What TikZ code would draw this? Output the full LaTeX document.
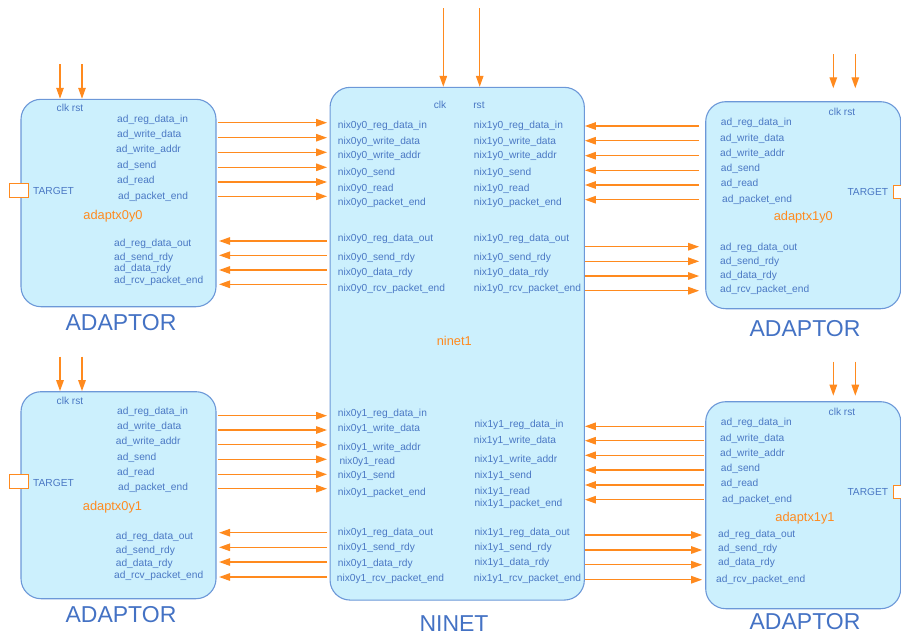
\documentclass[tikz,border=0pt]{standalone}
\usepackage{fontspec}
\setmainfont{Liberation Sans}
\usetikzlibrary{arrows.meta}

\definecolor{boxfill}{HTML}{CCF0FD}
\definecolor{boxline}{HTML}{6C98D8}
\definecolor{sigtext}{HTML}{4A78C4}
\definecolor{titletext}{HTML}{4472C4}
\definecolor{wireorange}{HTML}{FF8A1E}

\tikzset{
  blockbox/.style={draw=boxline, fill=boxfill, line width=1.1pt, rounded corners=20pt,
    inner sep=0pt, minimum width=#1},
  sig/.style={anchor=west, inner sep=0pt, text=sigtext, font=\fontsize{10.2}{12}\selectfont},
  sigc/.style={inner sep=0pt, text=sigtext, font=\fontsize{10.2}{12}\selectfont},
  inst/.style={inner sep=0pt, text=wireorange, font=\fontsize{12.8}{14}\selectfont},
  kind/.style={inner sep=0pt, text=titletext, font=\fontsize{23}{26}\selectfont},
  wire/.style={draw=wireorange, line width=1.3pt, -{Triangle[length=11pt,width=7.5pt]}},
  portbox/.style={draw=wireorange, fill=white, line width=1pt},
}

\begin{document}
\begin{tikzpicture}[x=1pt, y=-1pt]
\useasboundingbox (0,0) rectangle (901,635);

% ---------- blocks ----------
\node[blockbox=195pt, minimum height=207.4pt] (a00) at (118.5,203) {};
\node[blockbox=195pt, minimum height=207pt]   (a01) at (118.5,495.2) {};
\node[blockbox=195pt, minimum height=207pt]   (a10) at (803.2,205.2) {};
\node[blockbox=195pt, minimum height=207pt]   (a11) at (803.2,505.2) {};
\node[blockbox=254.3pt, minimum height=512.7pt] (nin) at (457.2,343.7) {};

% ---------- TARGET ports ----------
\draw[portbox] (9.3,183) rectangle (28,197);
\draw[portbox] (9.3,474.3) rectangle (28,488);
\draw[portbox] (893,185) rectangle (915,198.3);
\draw[portbox] (893,485) rectangle (915,498.3);
\node[sig] (t00) at (33,190.7) {TARGET};
\node[sig] (t01) at (33,483) {TARGET};
\node[sig, anchor=east] (t10) at (888.3,191.7) {TARGET};
\node[sig, anchor=east] (t11) at (888.3,491.7) {TARGET};

% ---------- clock / reset inputs ----------
\coordinate (ck00) at (60,64);     \coordinate (rs00) at (82,64);
\coordinate (ck01) at (60,356.7);  \coordinate (rs01) at (82,356.7);
\coordinate (ck10) at (833.3,54);  \coordinate (rs10) at (855.3,54);
\coordinate (ck11) at (833.3,361.7); \coordinate (rs11) at (855.3,361.7);
\coordinate (ckn) at (443.3,8);    \coordinate (rsn) at (479.7,8);
\coordinate (ck10e) at (833.3,88.3); \coordinate (rs10e) at (855.3,88.3);
\coordinate (ck11e) at (833.3,395.7); \coordinate (rs11e) at (855.3,395.7);
\draw[wire] (ck00) -- (ck00 |- a00.north);
\draw[wire] (rs00) -- (rs00 |- a00.north);
\draw[wire] (ck01) -- (ck01 |- a01.north);
\draw[wire] (rs01) -- (rs01 |- a01.north);
\draw[wire] (ck10) -- (ck10e);
\draw[wire] (rs10) -- (rs10e);
\draw[wire] (ck11) -- (ck11e);
\draw[wire] (rs11) -- (rs11e);
\draw[wire] (ckn) -- (ckn |- nin.north);
\draw[wire] (rsn) -- (rsn |- nin.north);

\node[sigc] (cr00) at (70,108) {clk rst};
\node[sigc] (cr01) at (70,400.7) {clk rst};
\node[sigc] (cr10) at (842,112.3) {clk rst};
\node[sigc] (cr11) at (842,412.3) {clk rst};
\node[sigc] (ckl) at (440,105) {clk};
\node[sigc] (rsl) at (479,105) {rst};

% ---------- adaptx0y0 ----------
\node[sig] at (117,120)   {ad\_reg\_data\_in};
\node[sig] at (117,135)   {ad\_write\_data};
\node[sig] at (116,150)   {ad\_write\_addr};
\node[sig] at (117,166)   {ad\_send};
\node[sig] at (117,180.7) {ad\_read};
\node[sig] at (118,196.7) {ad\_packet\_end};
\node[sig] at (114,244)   {ad\_reg\_data\_out};
\node[sig] at (114,257.7) {ad\_send\_rdy};
\node[sig] at (114,269.3) {ad\_data\_rdy};
\node[sig] at (114,280.7) {ad\_rcv\_packet\_end};
\node[inst] (i00) at (113,215.7) {adaptx0y0};
\node[kind] (k00) at (121,323) {ADAPTOR};

% ---------- adaptx0y1 ----------
\node[sig] at (117,412.3)   {ad\_reg\_data\_in};
\node[sig] at (117,427.3)   {ad\_write\_data};
\node[sig] at (115.7,442)   {ad\_write\_addr};
\node[sig] at (117,458)     {ad\_send};
\node[sig] at (117,473.3)   {ad\_read};
\node[sig] at (118,488.3)   {ad\_packet\_end};
\node[sig] at (115.7,536.7) {ad\_reg\_data\_out};
\node[sig] at (115.7,550.7) {ad\_send\_rdy};
\node[sig] at (115.7,564.3) {ad\_data\_rdy};
\node[sig] at (114,576.3)   {ad\_rcv\_packet\_end};
\node[inst] (i01) at (112.5,507.3) {adaptx0y1};
\node[kind] (k01) at (121,615) {ADAPTOR};

% ---------- adaptx1y0 ----------
\node[sig] at (720.7,123.3) {ad\_reg\_data\_in};
\node[sig] at (720,138.7)   {ad\_write\_data};
\node[sig] at (720,153.7)   {ad\_write\_addr};
\node[sig] at (720.7,168.7) {ad\_send};
\node[sig] at (720.7,183.7) {ad\_read};
\node[sig] at (722,199.7)   {ad\_packet\_end};
\node[sig] at (720,248.3)   {ad\_reg\_data\_out};
\node[sig] at (720,261.7)   {ad\_send\_rdy};
\node[sig] at (720,276.3)   {ad\_data\_rdy};
\node[sig] at (720,290.3)   {ad\_rcv\_packet\_end};
\node[inst] (i10) at (803.3,217.3) {adaptx1y0};
\node[kind] (k10) at (805,328.3) {ADAPTOR};

% ---------- adaptx1y1 ----------
\node[sig] at (720.7,423.3) {ad\_reg\_data\_in};
\node[sig] at (720,438.7)   {ad\_write\_data};
\node[sig] at (720,453.7)   {ad\_write\_addr};
\node[sig] at (720.7,469)   {ad\_send};
\node[sig] at (720.7,483.7) {ad\_read};
\node[sig] at (722,500.3)   {ad\_packet\_end};
\node[sig] at (718,535.3)   {ad\_reg\_data\_out};
\node[sig] at (718,548.7)   {ad\_send\_rdy};
\node[sig] at (718,563.3)   {ad\_data\_rdy};
\node[sig] at (716,579.7)   {ad\_rcv\_packet\_end};
\node[inst] (i11) at (805,517.7) {adaptx1y1};
\node[kind] (k11) at (805,622) {ADAPTOR};

% ---------- ninet1 ports ----------
\node[sig] at (337.7,126)   {nix0y0\_reg\_data\_in};
\node[sig] at (337.7,141.7) {nix0y0\_write\_data};
\node[sig] at (337.7,155.7) {nix0y0\_write\_addr};
\node[sig] at (337.7,172.7) {nix0y0\_send};
\node[sig] at (337.7,188.7) {nix0y0\_read};
\node[sig] at (337.7,202.7) {nix0y0\_packet\_end};
\node[sig] at (337.7,239.3) {nix0y0\_reg\_data\_out};
\node[sig] at (337.7,257.7) {nix0y0\_send\_rdy};
\node[sig] at (337.7,273.3) {nix0y0\_data\_rdy};
\node[sig] at (337.7,288.7) {nix0y0\_rcv\_packet\_end};

\node[sig] at (473.7,126)   {nix1y0\_reg\_data\_in};
\node[sig] at (473.7,141.7) {nix1y0\_write\_data};
\node[sig] at (473.7,155.7) {nix1y0\_write\_addr};
\node[sig] at (473.7,172.7) {nix1y0\_send};
\node[sig] at (473.7,188.7) {nix1y0\_read};
\node[sig] at (473.7,202.7) {nix1y0\_packet\_end};
\node[sig] at (473.7,239.3) {nix1y0\_reg\_data\_out};
\node[sig] at (473.7,257.7) {nix1y0\_send\_rdy};
\node[sig] at (473.7,273.3) {nix1y0\_data\_rdy};
\node[sig] at (473.7,288.7) {nix1y0\_rcv\_packet\_end};

\node[sig] at (337.7,414)   {nix0y1\_reg\_data\_in};
\node[sig] at (337.7,429.3) {nix0y1\_write\_data};
\node[sig] at (337.7,447.7) {nix0y1\_write\_addr};
\node[sig] at (339.3,462)   {nix0y1\_read};
\node[sig] at (337.7,475.7) {nix0y1\_send};
\node[sig] at (337.7,493)   {nix0y1\_packet\_end};
\node[sig] at (337.7,532.7) {nix0y1\_reg\_data\_out};
\node[sig] at (337.7,548.3) {nix0y1\_send\_rdy};
\node[sig] at (337.7,563.7) {nix0y1\_data\_rdy};
\node[sig] at (336.7,579)   {nix0y1\_rcv\_packet\_end};

\node[sig] at (474.3,425.3) {nix1y1\_reg\_data\_in};
\node[sig] at (473.7,441)   {nix1y1\_write\_data};
\node[sig] at (474.3,460)   {nix1y1\_write\_addr};
\node[sig] at (474.3,475.7) {nix1y1\_send};
\node[sig] at (474.3,492)   {nix1y1\_read};
\node[sig] at (474.3,504.3) {nix1y1\_packet\_end};
\node[sig] at (474.3,532.7) {nix1y1\_reg\_data\_out};
\node[sig] at (474.3,548)   {nix1y1\_send\_rdy};
\node[sig] at (474.3,563.3) {nix1y1\_data\_rdy};
\node[sig] at (473.7,579)   {nix1y1\_rcv\_packet\_end};

\node[inst] (inin) at (454.3,341) {ninet1};
\node[kind] (knin) at (454,623.3) {NINET};

% ---------- signal wires ----------
\foreach \y in {122.7,137.7,152.3,167.3,182,196.3}
  \draw[wire, shorten <=1pt, shorten >=2.5pt] (a00.east |- 0,\y) -- (nin.west |- 0,\y);
\foreach \y in {241,255.3,270,284.3}
  \draw[wire, shorten <=2.5pt, shorten >=2.5pt] (nin.west |- 0,\y) -- (a00.east |- 0,\y);

\foreach \y in {415.7,430,444.7,459.3,474.3,488.7}
  \draw[wire, shorten <=1pt, shorten >=2.5pt] (a01.east |- 0,\y) -- (nin.west |- 0,\y);
\foreach \y in {532.7,547.3,562,577}
  \draw[wire, shorten <=2.5pt, shorten >=2.5pt] (nin.west |- 0,\y) -- (a01.east |- 0,\y);

\foreach \y in {126,140.7,155.7,170.3,185,199.7}
  \draw[wire, shorten <=6pt, shorten >=0pt] (a10.west |- 0,\y) -- (nin.east |- 0,\y);
\foreach \y in {246.7,261.3,276,290.7}
  \draw[wire, shorten <=0pt, shorten >=6pt] (nin.east |- 0,\y) -- (a10.west |- 0,\y);

\foreach \y in {426.3,440.7,455.3,470,485,499.7}
  \draw[wire, shorten <=1.5pt, shorten >=0pt] (a11.west |- 0,\y) -- (nin.east |- 0,\y);
\foreach \y in {535,550,564.7,579.7}
  \draw[wire, shorten <=0pt, shorten >=3pt] (nin.east |- 0,\y) -- (a11.west |- 0,\y);
\end{tikzpicture}
\end{document}
